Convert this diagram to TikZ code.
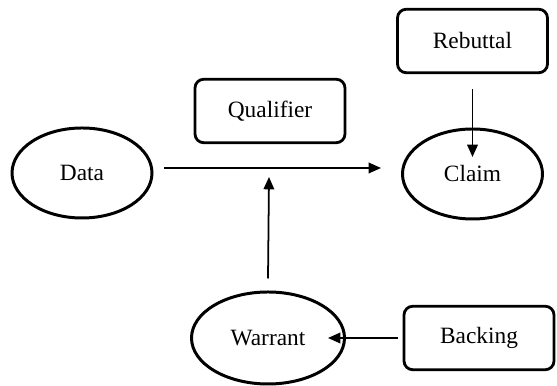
\documentclass[tikz,border=0pt]{standalone}
\usepackage{fontspec}
\setmainfont{Liberation Serif}
\usetikzlibrary{shapes.geometric,arrows.meta}

\tikzset{
  claimpart/.style={ellipse, draw, line width=1.7pt, inner sep=0pt,
    minimum width=2.8cm, minimum height=1.8cm},
  supportbox/.style={rectangle, draw, line width=1.6pt, rounded corners=5pt,
    minimum width=3.0cm, minimum height=1.27cm},
  arr/.style={-{Triangle[length=7pt,width=6pt]}, line width=1pt}
}

\begin{document}
\begin{tikzpicture}[font=\fontsize{13.3}{15}\selectfont]
			\useasboundingbox (0,0) rectangle (11.14,7.72);

			\node[claimpart] (data) at (1.64,4.26) {Data};
			\node[claimpart] (claim) at (9.45,4.24) {Claim};
			\node[claimpart, minimum width=3.06cm, minimum height=1.84cm] (warrant) at (5.36,0.96) {Warrant};

			\node[supportbox] (qualifier) at (5.40,5.50) {Qualifier};
			\node[supportbox] (rebuttal) at (9.45,6.90) {Rebuttal};
			\node[supportbox] (backing) at (9.58,0.96) {Backing};

			\coordinate (joint) at (5.38,4.36);

			\draw[arr] ([shift={(0.22,0.1)}]data.east) -- ([shift={(-0.4,0.12)}]claim.west);
			\draw[arr] ([yshift=0.24cm]warrant.north) -- ([yshift=-0.18cm]joint);
			\draw[arr] ([yshift=-0.3cm]rebuttal.south) -- ([yshift=0.34cm]claim.center);
			\draw[arr] ([xshift=-0.1cm]backing.west) -- ([xshift=-0.36cm]warrant.east);

		\end{tikzpicture}
\end{document}
